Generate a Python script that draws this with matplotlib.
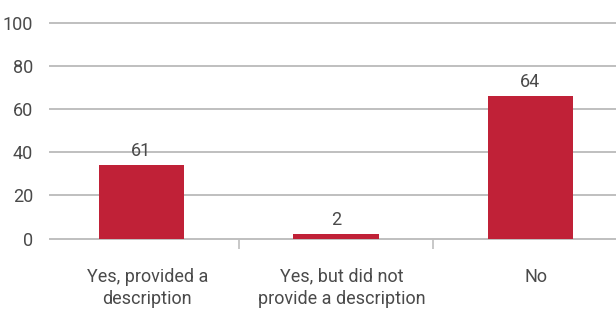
import matplotlib
matplotlib.use("Agg")
import matplotlib.pyplot as plt
from matplotlib.transforms import ScaledTranslation

# %% data
categories = ["Yes, provided a\ndescription", "Yes, but did not\nprovide a description", "No"]
heights = [34, 2, 66]
bar_labels = ["61", "2", "64"]

plt.rcParams["font.family"] = ["Roboto", "DejaVu Sans"]

text_col = "#4a4a4a"
grid_col = "#bfbfbf"
bar_col = "#c02137"

fig = plt.figure(figsize=(6.16, 3.13), dpi=100)
ax = fig.add_axes([0.081, 0.238, 0.919, 0.6895])

x = range(len(categories))
bars = ax.bar(x, heights, width=0.44, color=bar_col, zorder=3)
ax.bar_label(bars, labels=bar_labels, padding=4, fontsize=13, color=text_col)

ax.set_ylim(0, 100)
ax.set_xlim(-0.47, 2.44)
ax.set_yticks(range(0, 101, 20))
ax.yaxis.grid(True, color=grid_col, lw=1.4, zorder=0)
for gl in ax.get_ygridlines():
    gl.set_clip_on(False)
ax.set_axisbelow(True)
for s in ax.spines.values():
    s.set_visible(False)

ax.set_xticks(list(x))
ax.set_xticklabels(categories, linespacing=1.3)
ax.set_xticks([0.5, 1.5], minor=True)
ax.tick_params(axis="x", which="major", length=0, pad=21, labelsize=13, labelcolor=text_col)
ax.tick_params(axis="x", which="minor", length=7.5, width=1.2, color=grid_col, direction="out")
ax.tick_params(axis="y", length=0, pad=12, labelsize=13, labelcolor=text_col)

# labels sit a little right of the bar centres in the original
shift = ScaledTranslation(6 / 100, 0, fig.dpi_scale_trans)
for lab in ax.get_xticklabels():
    lab.set_transform(lab.get_transform() + shift)

fig.savefig("out.png", dpi=100)
